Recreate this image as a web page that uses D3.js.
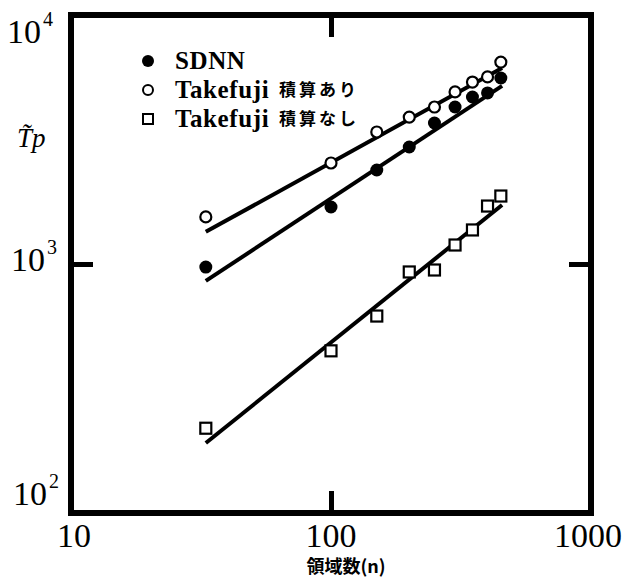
<!DOCTYPE html>
<html>
<head>
<meta charset="utf-8">
<script src="https://cdn.jsdelivr.net/npm/d3@7/dist/d3.min.js"></script>
<style>
  html, body { margin: 0; padding: 0; background: #fff; }
  svg { display: block; }
</style>
</head>
<body>
<svg id="chart" width="627" height="577"></svg>
<script>
// ---- data ----
const nValues = [33, 100, 150, 200, 250, 300, 350, 400, 450];
const sdnn = [972, 1694, 2385, 2950, 3684, 4270, 4685, 4865, 5585];
const takefujiAccum = [1545, 2545, 3390, 3890, 4270, 4910, 5380, 5640, 6470];
const takefujiNoAccum = [219, 448, 618, 929, 946, 1192, 1370, 1709, 1875];

const fitN = [33, 455];
const fitSdnn = [855, 5190];
const fitAccum = [1346, 6120];
const fitNoAccum = [191, 1726];

const xTickValues = [10, 100, 1000];
const xTickLabels = ["10", "100", "1000"];
const yTickValues = [100, 1000, 10000];
const yTickExps = ["2", "3", "4"];

const legendLabels = ["SDNN", "Takefuji", "Takefuji"];
const legendSubLabels = ["", "積算あり", "積算なし"];
const xTitle = "領域数(n)";
const yTitle = "T\u0303p";

(function () {
// ---- layout ----
const svg = d3.select("#chart");
const pL = 71, pR = 591, pT = 15, pB = 513;
const x = d3.scaleLog().domain([10, 1000]).range([pL, pR]);
const y = d3.scaleLog().domain([100, 10000]).range([pB, pT]);
const serif = "'Liberation Serif', 'Times New Roman', serif";
const cjk = "'Noto Sans CJK JP', sans-serif";

// frame
svg.append("rect")
  .attr("x", pL).attr("y", pT)
  .attr("width", pR - pL).attr("height", pB - pT)
  .attr("fill", "none").attr("stroke", "#000").attr("stroke-width", 6);

// inward ticks via d3 axes
function styleAxis(g) {
  g.select(".domain").remove();
  g.selectAll("text").remove();
  g.selectAll(".tick line").attr("stroke", "#000").attr("stroke-width", 5);
}
svg.append("g").attr("transform", `translate(0,${pB})`)
  .call(d3.axisBottom(x).tickValues([100]).tickSize(-22)).call(styleAxis);
svg.append("g").attr("transform", `translate(0,${pT})`)
  .call(d3.axisTop(x).tickValues([100]).tickSize(-22)).call(styleAxis);
svg.append("g").attr("transform", `translate(${pL},0)`)
  .call(d3.axisLeft(y).tickValues([1000]).tickSize(-22)).call(styleAxis);
svg.append("g").attr("transform", `translate(${pR},0)`)
  .call(d3.axisRight(y).tickValues([1000]).tickSize(-22)).call(styleAxis);

// x tick labels
svg.selectAll("text.xlab").data(xTickValues).enter().append("text")
  .attr("class", "xlab")
  .attr("x", (d) => x(d) + (d === 10 ? 3 : (d === 1000 ? -3 : 0)))
  .attr("y", 547)
  .attr("text-anchor", "middle")
  .attr("font-family", serif).attr("font-size", 34)
  .text((d, i) => xTickLabels[i]);

// y tick labels with superscripts
const yOffsets = {100: -8, 1000: 7, 10000: 28};
yTickValues.forEach((v, i) => {
  const t = svg.append("text")
    .attr("x", 7 + (v === 1000 ? 4 : (v === 100 ? 6 : 0)))
    .attr("y", y(v) + yOffsets[v])
    .attr("font-family", serif).attr("font-size", 34);
  t.append("tspan").text("10");
  t.append("tspan").attr("font-size", 20).attr("dy", -17).attr("dx", 2).text(yTickExps[i]);
});

// y axis label  T~p
svg.append("text").attr("x", 17).attr("y", 147)
  .attr("font-family", serif).attr("font-style", "italic").attr("font-size", 27)
  .text(yTitle);

// x axis title
svg.append("text").attr("x", 346).attr("y", 573)
  .attr("text-anchor", "middle")
  .attr("font-family", cjk).attr("font-weight", "bold").attr("font-size", 18)
  .text(xTitle);

// fit lines
const line = d3.line().x((d) => x(d[0])).y((d) => y(d[1]));
[fitAccum, fitSdnn, fitNoAccum].forEach((fv) => {
  svg.append("path")
    .datum(fitN.map((n, i) => [n, fv[i]]))
    .attr("d", line)
    .attr("fill", "none").attr("stroke", "#000").attr("stroke-width", 4);
});

// markers
svg.selectAll("circle.sdnn").data(nValues.map((n, i) => [n, sdnn[i]])).enter()
  .append("circle").attr("class", "sdnn")
  .attr("cx", (d) => x(d[0])).attr("cy", (d) => y(d[1])).attr("r", 6.5)
  .attr("fill", "#000");
svg.selectAll("circle.acc").data(nValues.map((n, i) => [n, takefujiAccum[i]])).enter()
  .append("circle").attr("class", "acc")
  .attr("cx", (d) => x(d[0])).attr("cy", (d) => y(d[1])).attr("r", 5.5)
  .attr("fill", "#fff").attr("stroke", "#000").attr("stroke-width", 2.2);
svg.selectAll("rect.noacc").data(nValues.map((n, i) => [n, takefujiNoAccum[i]])).enter()
  .append("rect").attr("class", "noacc")
  .attr("x", (d) => x(d[0]) - 5.5).attr("y", (d) => y(d[1]) - 5.5)
  .attr("width", 11).attr("height", 11)
  .attr("fill", "#fff").attr("stroke", "#000").attr("stroke-width", 2.2);

// legend
const legY = [61, 90, 119];
svg.append("circle").attr("cx", 148).attr("cy", legY[0]).attr("r", 6).attr("fill", "#000");
svg.append("circle").attr("cx", 148).attr("cy", legY[1]).attr("r", 5)
  .attr("fill", "#fff").attr("stroke", "#000").attr("stroke-width", 2);
svg.append("rect").attr("x", 143).attr("y", legY[2] - 5).attr("width", 10).attr("height", 10)
  .attr("fill", "#fff").attr("stroke", "#000").attr("stroke-width", 2);
legendLabels.forEach((lab, i) => {
  svg.append("text").attr("x", 175).attr("y", legY[i] + 8)
    .attr("font-family", serif).attr("font-weight", "bold").attr("font-size", 25)
    .attr("letter-spacing", 0.6)
    .text(lab);
  if (legendSubLabels[i]) {
    svg.append("text").attr("x", 279).attr("y", legY[i] + 6)
      .attr("font-family", cjk).attr("font-weight", "bold").attr("font-size", 17)
      .attr("letter-spacing", 3)
      .text(legendSubLabels[i]);
  }
});
})();
</script>
</body>
</html>
